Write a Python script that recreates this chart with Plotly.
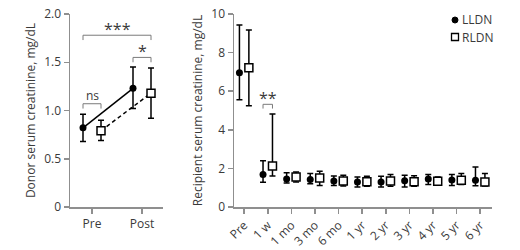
import plotly.graph_objects as go

# ---------------- data ----------------
donor_cats = ["Pre", "Post"]
donor_lldn = [0.82, 1.23]
donor_lldn_hi = [0.96, 1.45]
donor_lldn_lo = [0.68, 1.02]
donor_rldn = [0.79, 1.18]
donor_rldn_hi = [0.90, 1.44]
donor_rldn_lo = [0.69, 0.92]

recip_cats = ["Pre", "1 w", "1 mo", "3 mo", "6 mo", "1 yr", "2 yr", "3 yr", "4 yr", "5 yr", "6 yr"]
recip_lldn = [6.96, 1.69, 1.45, 1.43, 1.35, 1.30, 1.30, 1.36, 1.45, 1.40, 1.38]
recip_lldn_hi = [9.43, 2.40, 1.78, 1.73, 1.61, 1.55, 1.59, 1.64, 1.69, 1.69, 2.07]
recip_lldn_lo = [5.56, 1.28, 1.24, 1.21, 1.12, 1.04, 1.04, 1.04, 1.16, 1.12, 1.10]
recip_rldn = [7.22, 2.12, 1.55, 1.50, 1.35, 1.31, 1.35, 1.31, 1.33, 1.38, 1.30]
recip_rldn_hi = [9.17, 4.82, 1.81, 1.85, 1.64, 1.59, 1.68, 1.62, 1.55, 1.73, 1.73]
recip_rldn_lo = [5.25, 1.61, 1.30, 1.12, 1.09, 1.07, 1.07, 1.07, 1.14, 1.17, 1.09]

donor_yticks = [0, 0.5, 1.0, 1.5, 2.0]
donor_yticktext = ["0", "0.5", "1.0", "1.5", "2.0"]
recip_yticks = [0, 2, 4, 6, 8, 10]

# significance marks: (label, left point, right point, bracket height)
donor_sig = [("ns", (0, -1), (0, 1), 1.07), ("***", (0, -1), (1, 1), 1.78), ("*", (1, -1), (1, 1), 1.55)]
recip_sig = [("**", (1, -1), (1, 1), 5.32)]

# ---------------- style ----------------
FONT = "Open Sans"
AX = "#8f8f8f"
TXT = "#3a3a3a"
BR = "#7a7a7a"
W, H = 520, 250

def px_x(p):
    return p / W

def px_y(p):
    return 1 - p / H

d_off = 0.18
r_off = 0.2

fig = go.Figure()

def up(hi, v):
    return [a - b for a, b in zip(hi, v)]

def dn(v, lo):
    return [a - b for a, b in zip(v, lo)]

dx = list(range(len(donor_cats)))
rx = list(range(len(recip_cats)))

circ = dict(symbol="circle", size=7, color="black")
sq = dict(symbol="square", size=8, color="white", line=dict(width=1.5, color="black"))
eb = dict(type="data", symmetric=False, color="black", thickness=1.5, width=3)

fig.add_trace(go.Scatter(x=[i - d_off for i in dx], y=donor_lldn, mode="lines+markers",
                         marker=circ, line=dict(color="black", width=1.5),
                         error_y=dict(eb, array=up(donor_lldn_hi, donor_lldn), arrayminus=dn(donor_lldn, donor_lldn_lo)),
                         xaxis="x", yaxis="y", showlegend=False))
fig.add_trace(go.Scatter(x=[i + d_off for i in dx], y=donor_rldn, mode="lines+markers",
                         marker=sq, line=dict(color="black", width=1.5, dash="4px,3px"),
                         error_y=dict(eb, array=up(donor_rldn_hi, donor_rldn), arrayminus=dn(donor_rldn, donor_rldn_lo)),
                         xaxis="x", yaxis="y", showlegend=False))
fig.add_trace(go.Scatter(x=[i - r_off for i in rx], y=recip_lldn, mode="markers", marker=circ,
                         error_y=dict(eb, array=up(recip_lldn_hi, recip_lldn), arrayminus=dn(recip_lldn, recip_lldn_lo)),
                         xaxis="x2", yaxis="y2", showlegend=False))
fig.add_trace(go.Scatter(x=[i + r_off for i in rx], y=recip_rldn, mode="markers", marker=sq,
                         error_y=dict(eb, array=up(recip_rldn_hi, recip_rldn), arrayminus=dn(recip_rldn, recip_rldn_lo)),
                         xaxis="x2", yaxis="y2", showlegend=False))

shapes = []
annots = []

def add_brackets(sigs, off, xa, ya, leg, fs, gap):
    for label, (ci, si), (cj, sj), h in sigs:
        x0 = ci + si * off
        x1 = cj + sj * off
        shapes.append(dict(type="path", xref=xa, yref=ya,
                           path=f"M {x0},{h - leg} L {x0},{h} L {x1},{h} L {x1},{h - leg}",
                           line=dict(color=BR, width=1)))
        annots.append(dict(x=(x0 + x1) / 2, y=h, xref=xa, yref=ya, text=label, showarrow=False,
                           yanchor="bottom", yshift=gap, font=dict(family=FONT, size=fs, color=TXT)))

add_brackets([s for s in donor_sig if s[0] == "ns"], d_off, "x", "y", 0.05, 12, -2)
add_brackets([s for s in donor_sig if s[0] != "ns"], d_off, "x", "y", 0.05, 16, -7)
add_brackets(recip_sig, r_off, "x2", "y2", 0.22, 16, -7)

# legend glyphs
shapes.append(dict(type="circle", xref="paper", yref="paper",
                   x0=px_x(452), x1=px_x(458), y0=px_y(23), y1=px_y(17),
                   fillcolor="black", line=dict(color="black", width=1)))
shapes.append(dict(type="rect", xref="paper", yref="paper",
                   x0=px_x(451.5), x1=px_x(458.5), y0=px_y(40.5), y1=px_y(33.5),
                   fillcolor="white", line=dict(color="black", width=1.3)))
for lab, yy in [("LLDN", 20), ("RLDN", 37)]:
    annots.append(dict(x=px_x(460), y=px_y(yy), xref="paper", yref="paper", text=lab, showarrow=False,
                       xanchor="left", yanchor="middle", font=dict(family=FONT, size=12, color=TXT)))

axis_common = dict(showline=True, linecolor=AX, linewidth=1.5, ticks="outside", tickcolor=AX,
                   ticklen=5, tickwidth=1.5, showgrid=False, zeroline=False, automargin=False,
                   tickfont=dict(family=FONT, size=12, color=TXT))

fig.update_layout(
    width=W, height=H, margin=dict(l=0, r=0, t=0, b=0, autoexpand=False),
    paper_bgcolor="white", plot_bgcolor="white",
    xaxis=dict(axis_common, domain=[px_x(70), px_x(163)], range=[-0.44, 1.42],
               tickvals=dx, ticktext=donor_cats, anchor="y"),
    yaxis=dict(axis_common, domain=[px_y(207), px_y(14)], range=[0, 2.0],
               tickvals=donor_yticks, ticktext=donor_yticktext, anchor="x",
               title=dict(text="Donor serum creatinine, mg/dL", standoff=6,
                          font=dict(family=FONT, size=12, color=TXT))),
    xaxis2=dict(axis_common, domain=[px_x(234), px_x(492)], range=[-0.43, 10.5],
                tickvals=rx, ticktext=recip_cats, tickangle=-45, anchor="y2",
                tickfont=dict(family=FONT, size=12, color=TXT)),
    yaxis2=dict(axis_common, domain=[px_y(207), px_y(14)], range=[0, 10],
                tickvals=recip_yticks, anchor="x2",
                title=dict(text="Recipient serum creatinine, mg/dL", standoff=6,
                           font=dict(family=FONT, size=12, color=TXT))),
    shapes=shapes, annotations=annots,
)

fig.write_html("out.html", config={"displayModeBar": False, "staticPlot": True},
               post_script="document.body.style.margin='0';document.body.style.overflow='hidden';")
